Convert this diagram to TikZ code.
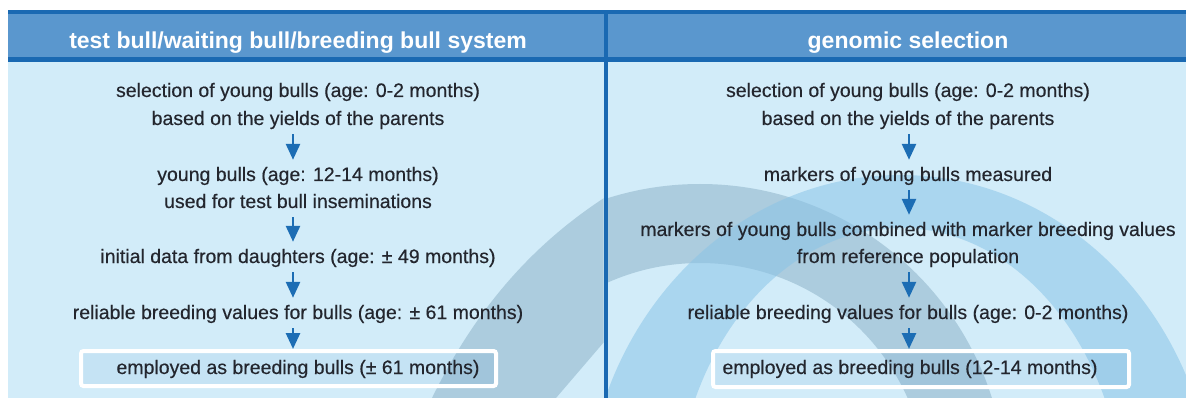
\documentclass[tikz,border=0pt]{standalone}
\usepackage{fontspec}
\setmainfont{Liberation Sans}
\newfontfamily\bodyfont{Liberation Sans}[FakeBold=0.35]
\usetikzlibrary{arrows.meta,calc}
\definecolor{bg}{HTML}{D2ECF9}
\definecolor{hdr}{HTML}{5A97CE}
\definecolor{dkblue}{HTML}{1A69B2}
\definecolor{arrblue}{HTML}{1C6DB4}
\definecolor{txtc}{HTML}{23262E}
\definecolor{archA}{HTML}{9CBFD3}
\definecolor{archB}{HTML}{8AC4E7}
\begin{document}
\begin{tikzpicture}[x=1pt,y=-1pt,
 line/.style={anchor=base, inner sep=0pt, text height=14pt, text depth=5pt, text=txtc, font=\bodyfont\fontsize{19.5}{24}\selectfont},
 head/.style={anchor=base, inner sep=0pt, text=white, font=\fontsize{23}{28}\selectfont\bfseries},
 arr/.style={draw=arrblue, line width=2.7pt, -{Triangle[width=14pt,length=16pt]}, shorten <=4pt, shorten >=7pt},
 endbox/.style={draw=white, line width=4pt, rounded corners=2.5pt, fill=arrblue, fill opacity=0.07, draw opacity=1, inner sep=0pt},
]
\useasboundingbox (0,0) rectangle (1186,398);
\fill[white] (0,0) rectangle (1186,398);
\fill[bg] (8,62) rectangle (1186,398);
% background decoration
\begin{scope}
\clip (8,62) rectangle (603.5,398);
\fill[archA, fill opacity=.7] (432,398) .. controls (480,300) and (540,240) .. (604,198) -- (604,342) -- (556,398) -- cycle;
\end{scope}
\begin{scope}
\clip (607.5,62) rectangle (1186,398);
\fill[archA, fill opacity=.7, even odd rule] (700,490) circle[radius=306pt] (700,490) circle[radius=227pt];
\fill[archB, fill opacity=.55, even odd rule] (900,520) ellipse[x radius=315pt, y radius=345pt] (900,520) ellipse[x radius=225pt, y radius=292pt];
\end{scope}
% header
\fill[dkblue] (8,10) rectangle (1186,14);
\fill[hdr] (8,14) rectangle (1186,57);
\fill[dkblue] (8,57) rectangle (1186,62);
\fill[dkblue] (603.5,10) rectangle (607.5,398);
\node[head] (hL) at (298,49) {test bull/waiting bull/breeding bull system};
\node[head] (hR) at (908,49) {genomic selection};
% columns
\coordinate (cL) at (293,0);
\coordinate (cR) at (909,0);
% left
\node[line] (l1a) at (298,97) {selection of young bulls (age: 0-2 months)};
\node[line] (l1b) at (298,125) {based on the yields of the parents};
\node[line] (l2a) at (298,181) {young bulls (age: 12-14 months)};
\node[line] (l2b) at (298,208) {used for test bull inseminations};
\node[line] (l3) at (298,263) {initial data from daughters (age: ± 49 months)};
\node[line] (l4) at (298,319) {reliable breeding values for bulls (age: ± 61 months)};
\node[endbox, minimum width=415pt, minimum height=35pt] (bL) at (288.5,368.5) {};
\node[line] (l5) at (298,374) {employed as breeding bulls (± 61 months)};
% right
\node[line] (r1a) at (908,97) {selection of young bulls (age: 0-2 months)};
\node[line] (r1b) at (908,125) {based on the yields of the parents};
\node[line] (r2) at (908,181) {markers of young bulls measured};
\node[line] (r3a) at (908,236) {markers of young bulls combined with marker breeding values};
\node[line] (r3b) at (908,263) {from reference population};
\node[line] (r4) at (908,319) {reliable breeding values for bulls (age: 0-2 months)};
\node[endbox, minimum width=416pt, minimum height=36pt] (bR) at (921,369) {};
\node[line] (r5) at (910,374) {employed as breeding bulls (12-14 months)};
% arrows
\draw[arr] (l1b.south -| cL) -- (l2a.north -| cL);
\draw[arr] (l2b.south -| cL) -- (l3.north -| cL);
\draw[arr] (l3.south -| cL) -- (l4.north -| cL);
\draw[arr, shorten >=0pt] (l4.south -| cL) -- (bL.north -| cL);
\draw[arr] (r1b.south -| cR) -- (r2.north -| cR);
\draw[arr] (r2.south -| cR) -- (r3a.north -| cR);
\draw[arr] (r3b.south -| cR) -- (r4.north -| cR);
\draw[arr, shorten >=0pt] (r4.south -| cR) -- (bR.north -| cR);
\end{tikzpicture}
\end{document}
